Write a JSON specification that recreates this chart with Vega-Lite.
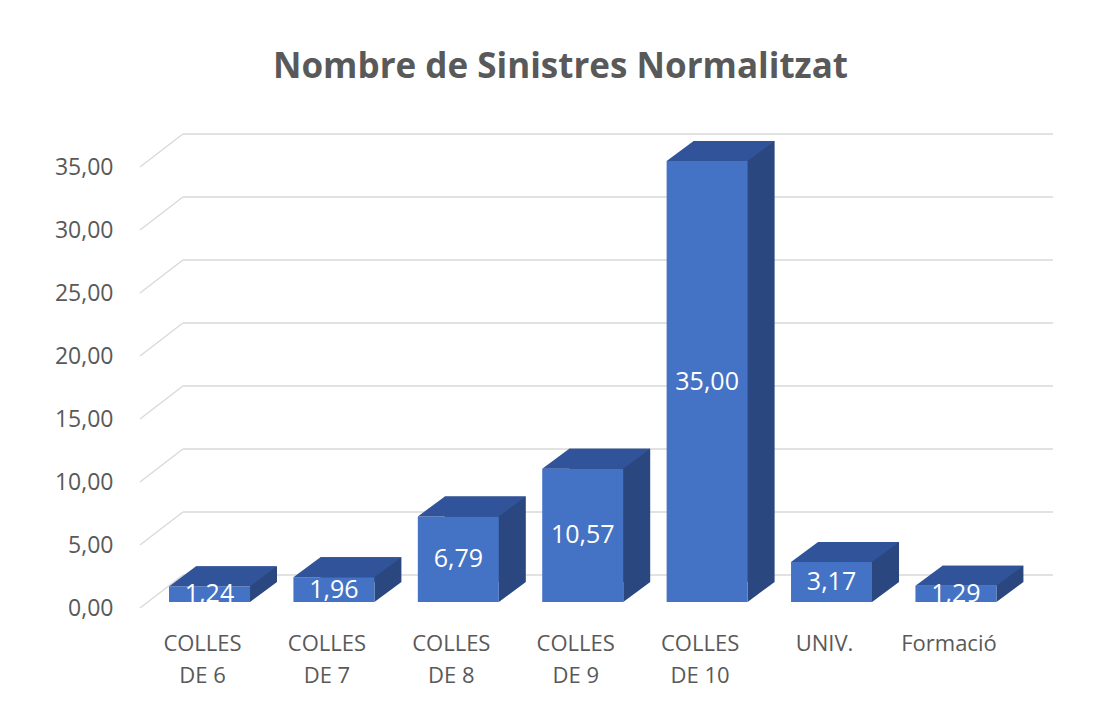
{
  "$schema": "https://vega.github.io/schema/vega-lite/v6.json",
  "width": 913,
  "height": 441,
  "autosize": {"type": "none"},
  "padding": {"left": 140, "top": 161, "right": 48, "bottom": 107},
  "background": "white",
  "config": {
    "view": {"stroke": null},
    "font": "Open Sans",
    "locale": {"number": {"decimal": ",", "thousands": ".", "grouping": [3], "currency": ["", " €"]}}
  },
  "title": {
    "text": "Nombre de Sinistres Normalitzat",
    "font": "Open Sans",
    "fontSize": 35,
    "fontWeight": "bold",
    "color": "#595959",
    "anchor": "middle",
    "frame": "group",
    "dx": -36,
    "offset": 48
  },
  "datasets": {
    "bars": [
      {"cat": "COLLES DE 6", "v": 1.24},
      {"cat": "COLLES DE 7", "v": 1.96},
      {"cat": "COLLES DE 8", "v": 6.79},
      {"cat": "COLLES DE 9", "v": 10.57},
      {"cat": "COLLES DE 10", "v": 35.0},
      {"cat": "UNIV.", "v": 3.17},
      {"cat": "Formació", "v": 1.29}
    ],
    "grid": [{"v": 0}, {"v": 5}, {"v": 10}, {"v": 15}, {"v": 20}, {"v": 25}, {"v": 30}, {"v": 35}]
  },
  "resolve": {"scale": {"x": "independent", "y": "independent"}},
  "layer": [
    {
      "data": {"name": "grid"},
      "mark": {"type": "rule", "color": "#D9D9D9", "strokeWidth": 1.3, "yOffset": 6, "y2Offset": -27},
      "encoding": {
        "x": {"datum": 0, "type": "quantitative", "scale": {"domain": [0, 1], "nice": false, "zero": false}, "axis": null},
        "x2": {"datum": 0.047},
        "y": {"field": "v", "type": "quantitative", "scale": {"domain": [0, 35], "nice": false}, "axis": null},
        "y2": {"field": "v"}
      }
    },
    {
      "data": {"name": "grid"},
      "mark": {"type": "rule", "color": "#D9D9D9", "strokeWidth": 1.3, "yOffset": -27, "y2Offset": -27},
      "encoding": {
        "x": {"datum": 0.047, "type": "quantitative", "scale": {"domain": [0, 1], "nice": false, "zero": false}, "axis": null},
        "x2": {"datum": 1},
        "y": {"field": "v", "type": "quantitative", "scale": {"domain": [0, 35], "nice": false}, "axis": null},
        "y2": {"field": "v"}
      }
    },
    {
      "data": {"name": "bars"},
      "mark": {"type": "bar", "color": "#2A477F", "xOffset": 27, "yOffset": -20, "y2Offset": -20},
      "encoding": {
        "x": {"field": "cat", "type": "nominal", "scale": {"type": "band", "domain": ["COLLES DE 6", "COLLES DE 7", "COLLES DE 8", "COLLES DE 9", "COLLES DE 10", "UNIV.", "Formació"], "paddingInner": 0.349, "paddingOuter": 0.344, "align": 0.339}, "axis": null},
        "y": {"field": "v", "type": "quantitative", "scale": {"domain": [0, 35], "nice": false}, "axis": null}
      }
    },
    {
      "data": {"name": "bars"},
      "mark": {"type": "point", "shape": "M1,0 L1,-0.494 L1.667,-0.494 Z", "size": 6561, "filled": true, "opacity": 1, "color": "#2A477F"},
      "encoding": {
        "x": {"field": "cat", "type": "nominal", "scale": {"type": "band", "domain": ["COLLES DE 6", "COLLES DE 7", "COLLES DE 8", "COLLES DE 9", "COLLES DE 10", "UNIV.", "Formació"], "paddingInner": 0.349, "paddingOuter": 0.344, "align": 0.339}, "axis": null},
        "y": {"datum": 0, "type": "quantitative", "scale": {"domain": [0, 35], "nice": false}, "axis": null}
      }
    },
    {
      "data": {"name": "bars"},
      "mark": {"type": "bar", "color": "#4472C4"},
      "encoding": {
        "x": {"field": "cat", "type": "nominal", "scale": {"type": "band", "domain": ["COLLES DE 6", "COLLES DE 7", "COLLES DE 8", "COLLES DE 9", "COLLES DE 10", "UNIV.", "Formació"], "paddingInner": 0.349, "paddingOuter": 0.344, "align": 0.339},
          "axis": {"domain": false, "ticks": false, "labelAngle": 0, "labelFontSize": 22, "labelColor": "#595959", "labelPadding": 31, "labelOffset": -7, "labelLineHeight": 32, "labelBaseline": "top", "title": null,
            "labelExpr": "indexof(datum.value, 'COLLES') == 0 ? ['COLLES', slice(datum.value, 7)] : datum.value"}},
        "y": {"field": "v", "type": "quantitative", "scale": {"domain": [0, 35], "nice": false},
          "axis": {"values": [0, 5, 10, 15, 20, 25, 30, 35], "format": ".2f", "domain": false, "ticks": false, "grid": false, "labelFontSize": 23, "labelColor": "#595959", "labelPadding": 27, "labelOffset": 6, "title": null}}
      }
    },
    {
      "data": {"name": "bars"},
      "mark": {"type": "point", "shape": "M-1,0 L-0.333,-0.494 L1.667,-0.494 L1,0 Z", "size": 6561, "filled": true, "opacity": 1, "color": "#30539A"},
      "encoding": {
        "x": {"field": "cat", "type": "nominal", "scale": {"type": "band", "domain": ["COLLES DE 6", "COLLES DE 7", "COLLES DE 8", "COLLES DE 9", "COLLES DE 10", "UNIV.", "Formació"], "paddingInner": 0.349, "paddingOuter": 0.344, "align": 0.339}, "axis": null},
        "y": {"field": "v", "type": "quantitative", "scale": {"domain": [0, 35], "nice": false}, "axis": null}
      }
    },
    {
      "data": {"name": "bars"},
      "mark": {"type": "text", "color": "white", "fontSize": 25, "baseline": "middle", "align": "center"},
      "encoding": {
        "x": {"field": "cat", "type": "nominal", "scale": {"type": "band", "domain": ["COLLES DE 6", "COLLES DE 7", "COLLES DE 8", "COLLES DE 9", "COLLES DE 10", "UNIV.", "Formació"], "paddingInner": 0.349, "paddingOuter": 0.344, "align": 0.339}, "axis": null},
        "y": {"field": "v", "type": "quantitative", "scale": {"domain": [0, 70], "nice": false}, "axis": null},
        "text": {"field": "v", "type": "quantitative", "format": ".2f"}
      }
    }
  ]
}
